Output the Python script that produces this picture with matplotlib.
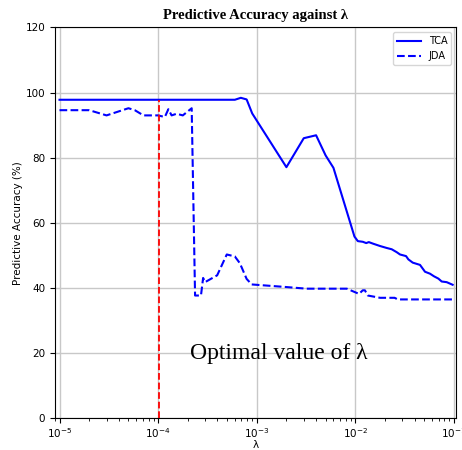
import matplotlib.pyplot as plt

# lambda values and accuracies
tca_lam = [1e-5, 6e-4, 6.9e-4, 7.9e-4, 9e-4, 2e-3, 3e-3, 4e-3, 5e-3, 6e-3,
           9.8e-3, 1.06e-2, 1.19e-2, 1.29e-2, 1.37e-2, 1.52e-2, 1.78e-2,
           2.08e-2, 2.34e-2, 2.63e-2, 2.84e-2, 3.27e-2, 3.45e-2, 3.82e-2,
           4.53e-2, 5.09e-2, 5.72e-2, 6.28e-2, 6.95e-2, 7.52e-2, 8.45e-2, 9.7e-2]
tca_acc = [97.8, 97.8, 98.4, 97.9, 93.6, 77.1, 86.0, 86.9, 80.7, 76.9,
           55.8, 54.4, 54.2, 53.8, 54.1, 53.6, 52.9,
           52.3, 51.9, 51.0, 50.3, 49.8, 48.8, 47.8,
           47.1, 45.0, 44.4, 43.6, 42.9, 42.0, 41.8, 41.0]

jda_lam = [1e-5, 2e-5, 3e-5, 5e-5, 5.8e-5, 7.1e-5, 1e-4, 1.17e-4, 1.27e-4,
           1.37e-4, 1.54e-4, 1.78e-4, 2.19e-4, 2.37e-4, 2.72e-4, 2.86e-4,
           2.99e-4, 3.97e-4, 4.97e-4, 6e-4, 6.75e-4, 7.9e-4, 8.9e-4, 2e-3,
           3.2e-3, 7.6e-3, 8.2e-3, 1.09e-2, 1.19e-2, 1.25e-2, 1.34e-2,
           1.78e-2, 2.5e-2, 2.7e-2, 9.7e-2]
jda_acc = [94.6, 94.6, 93.0, 95.2, 94.6, 93.0, 93.0, 92.5, 94.9,
           93.0, 93.5, 93.0, 95.2, 37.7, 37.7, 43.1,
           41.8, 43.9, 50.3, 49.7, 47.6, 42.8, 41.1, 40.3,
           39.8, 39.8, 39.8, 38.2, 39.3, 39.3, 37.7,
           37.0, 37.0, 36.5, 36.5]

optimal_lam = 1.03e-4
optimal_top = 97.8

fig = plt.figure(figsize=(4.62, 4.5), dpi=100)
ax = fig.add_axes([0.119, 0.0704, 0.868, 0.8686])

ax.plot(tca_lam, tca_acc, color="blue", linestyle="solid", linewidth=1.5, label="TCA")
ax.plot(jda_lam, jda_acc, color="blue", linestyle="dashed", linewidth=1.5, label="JDA")
ax.vlines(optimal_lam, 0, optimal_top, colors="red", linestyles="dashed", linewidth=1.3)

ax.set_xscale("log")
ax.set_xlim(10 ** -5.046, 10 ** -0.979)
ax.set_ylim(0, 120)
ax.grid(True, color="#c8c8c8", linewidth=1)
ax.set_axisbelow(True)

ax.text(2.11e-4, 20, "Optimal value of λ", fontsize=17, family="Liberation Serif",
        ha="left", va="center")

ax.set_title("Predictive Accuracy against λ", fontsize=10.5, fontweight="bold",
             family="Liberation Serif")
ax.set_xlabel("λ", fontsize=7.5, labelpad=0)
ax.set_ylabel("Predictive Accuracy (%)", fontsize=7.5, labelpad=2)
ax.tick_params(labelsize=7.5)
ax.tick_params(axis="x", pad=2)
ax.legend(loc="upper right", fontsize=7, handlelength=2.5)

fig.savefig("out.png", dpi=100)
